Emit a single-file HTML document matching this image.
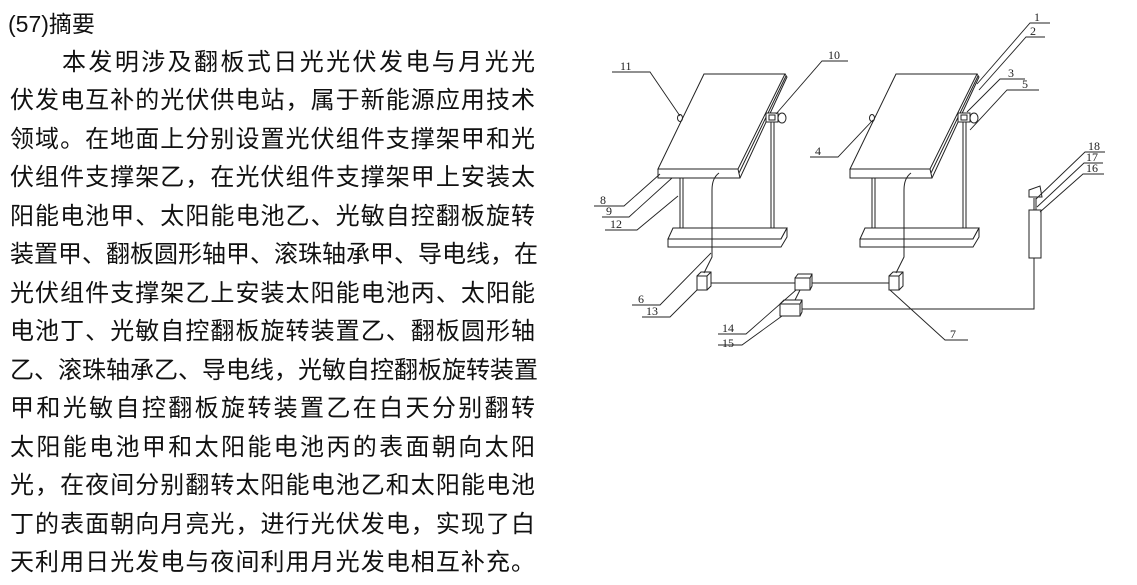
<!DOCTYPE html>
<html><head><meta charset="utf-8">
<style>
html,body{margin:0;padding:0;background:#fff;}
body{width:1137px;height:585px;position:relative;overflow:hidden;font-family:"Liberation Sans","Noto Sans CJK SC",sans-serif;color:#111;}
.h{position:absolute;left:8px;top:10px;font-size:23px;line-height:28px;}
.l{position:absolute;left:10px;width:525px;font-size:24px;line-height:28px;text-align:justify;text-align-last:justify;white-space:nowrap;}
svg{position:absolute;left:0;top:0;}
svg text{font-family:"Liberation Serif",serif;font-size:12px;fill:#222;}
</style></head><body>
<div class="h">(57)摘要</div>
<div class="l" style="left:62px;width:473px;top:49px">本发明涉及翻板式日光光伏发电与月光光</div>
<div class="l" style="top:87px">伏发电互补的光伏供电站，属于新能源应用技术</div>
<div class="l" style="top:126px">领域。在地面上分别设置光伏组件支撑架甲和光</div>
<div class="l" style="top:164px">伏组件支撑架乙，在光伏组件支撑架甲上安装太</div>
<div class="l" style="top:203px">阳能电池甲、太阳能电池乙、光敏自控翻板旋转</div>
<div class="l" style="top:241px">装置甲、翻板圆形轴甲、滚珠轴承甲、导电线，在</div>
<div class="l" style="top:280px">光伏组件支撑架乙上安装太阳能电池丙、太阳能</div>
<div class="l" style="top:318px">电池丁、光敏自控翻板旋转装置乙、翻板圆形轴</div>
<div class="l" style="top:357px">乙、滚珠轴承乙、导电线，光敏自控翻板旋转装置</div>
<div class="l" style="top:395px">甲和光敏自控翻板旋转装置乙在白天分别翻转</div>
<div class="l" style="top:434px">太阳能电池甲和太阳能电池丙的表面朝向太阳</div>
<div class="l" style="top:472px">光，在夜间分别翻转太阳能电池乙和太阳能电池</div>
<div class="l" style="top:511px">丁的表面朝向月亮光，进行光伏发电，实现了白</div>
<div class="l" style="top:549px">天利用日光发电与夜间利用月光发电相互补充。</div>
<svg width="1137" height="585" viewBox="0 0 1137 585" fill="none" stroke="#222" stroke-width="1">
<g id="st">
<polygon points="704,74 785,74 738,169 658,169" fill="#fff"/>
<polyline points="785,74 787,77 740,178 658,178 658,169"/>
<line x1="738" y1="169" x2="740" y2="178"/>
<line x1="786" y1="76" x2="739" y2="173"/>
<line x1="680" y1="178" x2="680" y2="233"/><line x1="683" y1="178" x2="683" y2="233"/>
<line x1="771" y1="117" x2="771" y2="233"/><line x1="774" y1="117" x2="774" y2="233"/>
<rect x="766" y="113" width="12" height="9" fill="#fff"/>
<ellipse cx="782" cy="118" rx="4" ry="5" fill="#fff"/>
<rect x="769" y="115" width="6" height="5"/>
<ellipse cx="680" cy="118" rx="2.5" ry="3.5"/>
<polygon points="668,239 673,228 787,228 781,239" fill="#fff"/>
<polygon points="668,239 781,239 787,228 787,237 781,247 668,247" fill="#fff"/>
</g>
<use href="#st" x="192" y="0"/>
<path d="M719,173 Q712,178 712,190 L712,257 L704,273"/>
<path d="M911,173 Q904,178 904,190 L904,257 L896,273"/>
<rect x="697" y="276" width="10" height="14" fill="#fff"/>
<polyline points="697,276 701,272 711,272 711,286 707,290"/><line x1="707" y1="276" x2="711" y2="272"/>
<rect x="889" y="276" width="10" height="14" fill="#fff"/>
<polyline points="889,276 893,272 903,272 903,286 899,290"/><line x1="899" y1="276" x2="903" y2="272"/>
<rect x="795" y="278" width="15" height="12" fill="#fff"/>
<polyline points="795,278 798,274 812,274 812,286 810,290"/><line x1="810" y1="278" x2="812" y2="274"/>
<rect x="780" y="304" width="20" height="12" fill="#fff"/>
<polyline points="780,304 784,300 802,300 802,312 800,316"/><line x1="800" y1="304" x2="802" y2="300"/>
<line x1="711" y1="283" x2="795" y2="283"/>
<line x1="812" y1="283" x2="889" y2="283"/>
<line x1="800" y1="290" x2="795" y2="300"/>
<polyline points="802,309 1034,309 1034,258"/>
<rect x="1029" y="210" width="12" height="48" fill="#fff"/>
<line x1="1034" y1="198" x2="1034" y2="210"/><line x1="1036" y1="198" x2="1036" y2="210"/>
<polygon points="1029,190 1040,186 1042,197 1029,197" fill="#fff"/>
<g stroke-width="0.9">
<polyline points="977,84 1030,23 1050,23"/>
<polyline points="979,90 1026,37 1045,37"/>
<polyline points="967,112 1000,79 1025,79"/>
<polyline points="970,130 1007,90 1039,90"/>
<polyline points="873,120 838,157 810,157"/>
<polyline points="680,116 650,72 612,72"/>
<polyline points="776,114 822,61 848,61"/>
<polyline points="660,174 624,206 594,206"/>
<polyline points="672,178 629,217 602,217"/>
<polyline points="678,196 637,230 605,230"/>
<polyline points="711,253 660,305 632,305"/>
<polyline points="697,290 670,317 642,317"/>
<polyline points="796,290 746,334 718,334"/>
<polyline points="782,316 742,345 718,345"/>
<polyline points="890,290 945,340 968,340"/>
<polyline points="1036,199 1085,152 1105,152"/>
<polyline points="1037,207 1084,163 1103,163"/>
<polyline points="1040,212 1083,174 1104,174"/>
</g>
<g stroke="none">
<text x="1034" y="21">1</text><text x="1030" y="35">2</text>
<text x="1008" y="77">3</text><text x="1022" y="88">5</text>
<text x="815" y="155">4</text><text x="620" y="70">11</text>
<text x="828" y="59">10</text><text x="600" y="204">8</text>
<text x="606" y="215">9</text><text x="610" y="228">12</text>
<text x="638" y="303">6</text><text x="646" y="315">13</text>
<text x="722" y="332">14</text><text x="722" y="347">15</text>
<text x="950" y="338">7</text><text x="1088" y="150">18</text>
<text x="1086" y="161">17</text><text x="1086" y="172">16</text>
</g>
</svg>
</body></html>
